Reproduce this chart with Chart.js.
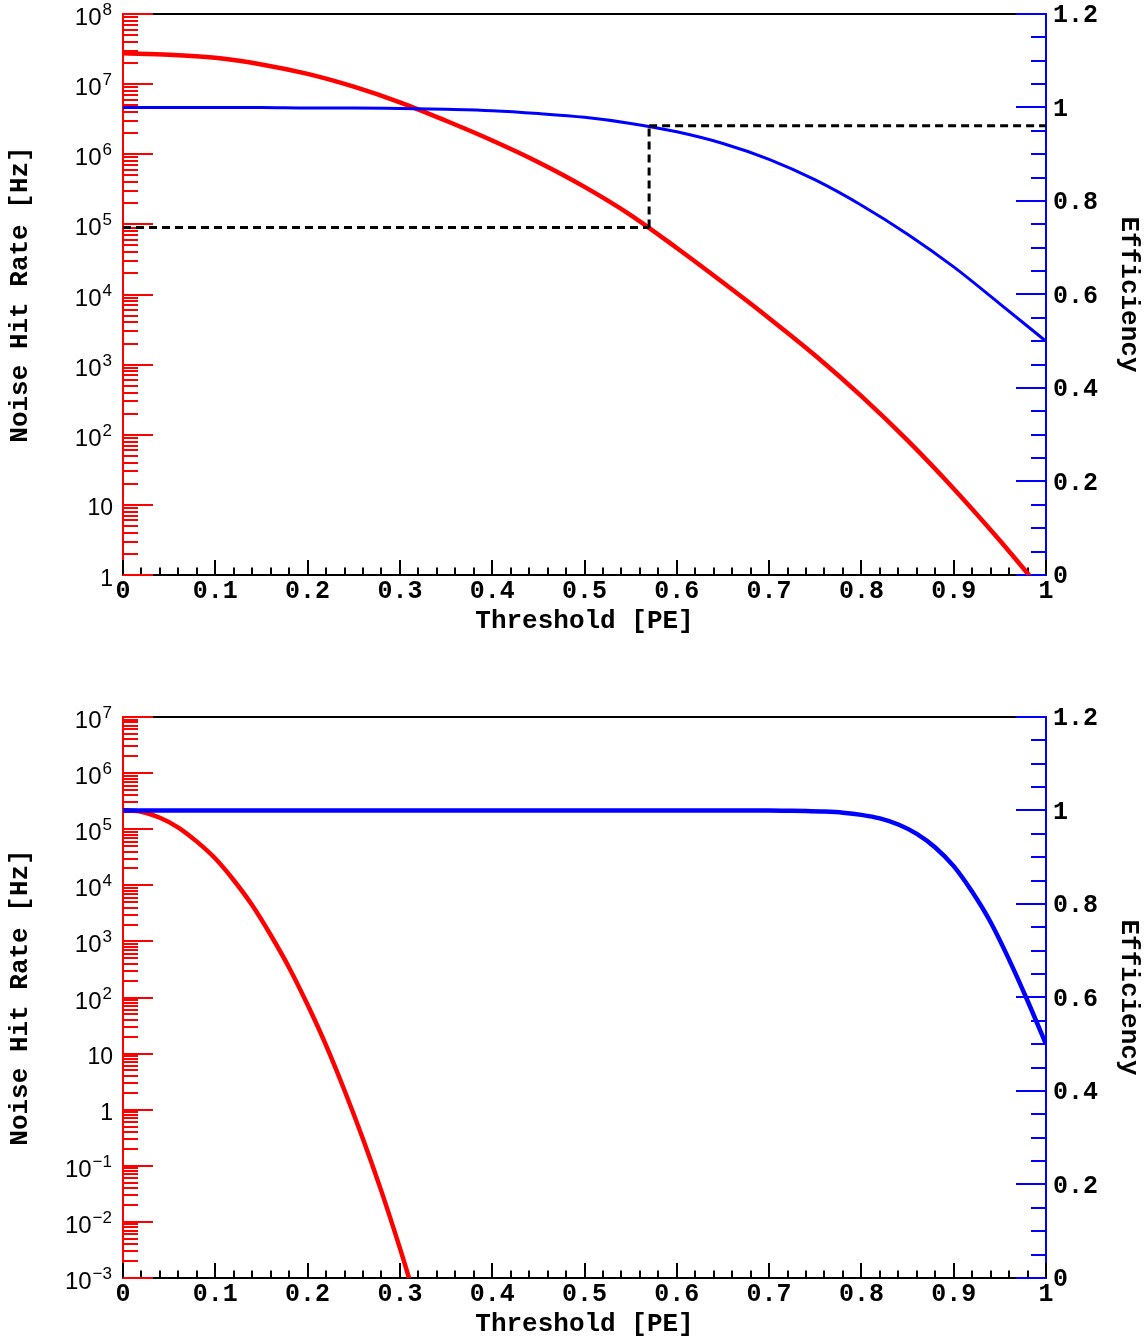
<!DOCTYPE html>
<html>
<head>
<meta charset="utf-8">
<script src="https://cdn.jsdelivr.net/npm/chart.js@4.4.1/dist/chart.umd.min.js"></script>
<style>
  body { margin: 0; background: #fff; }
  .panel { position: absolute; left: 0; width: 1144px; height: 637px; }
  #panelTop { top: 0; }
  #panelBottom { top: 703px; }
</style>
</head>
<body>
<div class="panel" id="panelTop"><canvas id="chartTop" width="1144" height="637"></canvas></div>
<div class="panel" id="panelBottom"><canvas id="chartBottom" width="1144" height="637"></canvas></div>
<script>
// ---- data ----

// top panel
const thrTop = [0, 0.05, 0.1, 0.15, 0.2, 0.25, 0.3, 0.35, 0.4, 0.45, 0.5,
  0.55, 0.6, 0.65, 0.7, 0.75, 0.8, 0.85, 0.9, 0.95, 1.0];
const rateTop = [2.75e7, 2.63e7, 2.37e7, 1.91e7, 1.4e7, 9.2e6, 5.5e6, 3.0e6, 1.57e6, 7.7e5, 3.43e5,
  1.36e5, 4.6e4, 1.48e4, 4.6e3, 1.35e3, 355, 83, 17, 3.1, 0.51];
const effTop = [1.0, 1.0, 1.0, 1.0, 0.999, 0.999, 0.998, 0.996, 0.993, 0.987, 0.979,
  0.966, 0.948, 0.923, 0.889, 0.845, 0.791, 0.729, 0.659, 0.58, 0.5];
const cutThr = 0.57;
const cutRate = 9.0e4;
const cutEff = 0.961;

// bottom panel
const thrRateBottom = [0, 0.02, 0.04, 0.06, 0.08, 0.1, 0.12, 0.14, 0.16, 0.18, 0.2,
  0.22, 0.24, 0.26, 0.28, 0.3, 0.32];
const rateBottom = [2.2e5, 2.05e5, 1.6e5, 1.07e5, 6.0e4, 3.0e4, 1.23e4, 4.4e3, 1.3e3, 340, 74,
  14, 2.2, 0.3, 0.035, 3.4e-3, 2.8e-4];
const thrEffBottom = [0, 0.1, 0.2, 0.3, 0.4, 0.5, 0.6, 0.7, 0.72, 0.74, 0.76, 0.78, 0.8,
  0.82, 0.84, 0.86, 0.88, 0.9, 0.92, 0.94, 0.96, 0.98, 1.0];
const effBottom = [1.0, 1.0, 1.0, 1.0, 1.0, 1.0, 1.0, 1.0, 0.9995, 0.9989, 0.9976, 0.9952, 0.9906,
  0.983, 0.97, 0.95, 0.921, 0.881, 0.826, 0.761, 0.681, 0.593, 0.5];

// axes
const decadesTop = [1, 1e1, 1e2, 1e3, 1e4, 1e5, 1e6, 1e7, 1e8];
const decadesBottom = [1e-3, 1e-2, 1e-1, 1, 1e1, 1e2, 1e3, 1e4, 1e5, 1e6, 1e7];
const effRange = [0, 1.2];

const RED = "#ff0000";
const BLUE = "#0000ff";
const MONO = "'Liberation Mono', 'DejaVu Sans Mono', monospace";
const SANS = "'Liberation Sans', 'DejaVu Sans', sans-serif";

const pts = (xs, ys) => xs.map((x, i) => ({ x, y: ys[i] }));

// ROOT-style frame: inward ticks, top line, log labels with exponents
const rootFrame = {
  id: "rootFrame",
  beforeDatasetsDraw(chart, args, opts) {
    const { ctx, chartArea: a, scales } = chart;
    const { x, y, y1 } = scales;
    const line = (x0, y0, x2, y2) => {
      ctx.beginPath();
      ctx.moveTo(x0, y0);
      ctx.lineTo(x2, y2);
      ctx.stroke();
    };
    ctx.save();
    ctx.lineWidth = 2;

    // top frame line
    ctx.strokeStyle = "#000";
    line(a.left, a.top, a.right, a.top);

    // x ticks: major 0.1, minor 0.02
    for (let i = 0; i <= 50; i++) {
      const px = Math.round(x.getPixelForValue(i / 50));
      line(px, a.bottom, px, a.bottom - (i % 5 === 0 ? 15 : 7.5));
    }

    // log axis ticks (red)
    ctx.strokeStyle = RED;
    const decades = opts.decades;
    decades.forEach((d, i) => {
      const py = Math.round(y.getPixelForValue(d));
      line(a.left, py, a.left + 30, py);
      if (i < decades.length - 1) {
        for (let k = 2; k <= 9; k++) {
          const pm = Math.round(y.getPixelForValue(k * d));
          line(a.left, pm, a.left + 15, pm);
        }
      }
    });

    // efficiency ticks (blue): major 0.2, minor 0.05
    ctx.strokeStyle = BLUE;
    for (let i = 0; i <= 24; i++) {
      const py = Math.round(y1.getPixelForValue(i * 0.05));
      line(a.right, py, a.right - (i % 4 === 0 ? 30 : 15), py);
    }

    // log axis labels
    ctx.fillStyle = "#000";
    ctx.textBaseline = "alphabetic";
    decades.forEach((d) => {
      const py = y.getPixelForValue(d);
      const e = Math.round(Math.log10(d));
      ctx.textAlign = "right";
      if (e === 0 || e === 1) {
        ctx.font = "23px " + SANS;
        ctx.fillText(e === 0 ? "1" : "10", 113, py + 10.5);
      } else {
        const sup = String(e).replace("-", "\u2212");
        ctx.font = "17px " + SANS;
        const w = ctx.measureText(sup).width;
        ctx.fillText(sup, 112, py + 1);
        ctx.font = "24px " + SANS;
        ctx.fillText("10", 112 - w - 1, py + 11);
      }
    });
    ctx.restore();
  },
  afterDatasetsDraw(chart, args, opts) {
    if (!opts.cut) return;
    const { ctx, scales } = chart;
    const px = scales.x.getPixelForValue(opts.cut.thr);
    ctx.save();
    ctx.strokeStyle = "#000";
    ctx.lineWidth = 3;
    ctx.setLineDash([8, 5]);
    ctx.beginPath();
    ctx.moveTo(px, scales.y.getPixelForValue(opts.cut.rate));
    ctx.lineTo(px, scales.y1.getPixelForValue(opts.cut.eff));
    ctx.stroke();
    ctx.restore();
  },
};

function fmtLin(v) {
  const r = Math.round(v * 10) / 10;
  if (r === 0) return "0";
  if (r === 1) return "1";
  return r.toFixed(1);
}

function buildOptions(decades, cut) {
  const monoTick = { family: MONO, size: 25, weight: "bold" };
  const monoTitle = { family: MONO, size: 26, weight: "bold" };
  return {
    responsive: false,
    animation: false,
    layout: { padding: { top: 14, left: 0, right: 0, bottom: 0 } },
    elements: { point: { radius: 0 } },
    plugins: {
      legend: { display: false },
      tooltip: { enabled: false },
      rootFrame: { decades, cut },
    },
    scales: {
      x: {
        type: "linear",
        position: "bottom",
        min: 0,
        max: 1,
        grid: { display: false, drawTicks: false },
        border: { color: "#000", width: 2 },
        ticks: {
          stepSize: 0.1,
          padding: 2,
          autoSkip: false,
          maxRotation: 0,
          color: "#000",
          font: monoTick,
          callback: fmtLin,
        },
        title: { display: true, text: "Threshold [PE]", color: "#000", font: monoTitle, padding: { top: 0, bottom: 0 } },
        afterFit(s) {
          s.height = 62;
          s.paddingLeft = 0;
          s.paddingRight = 0;
        },
      },
      y: {
        type: "logarithmic",
        position: "left",
        min: decades[0],
        max: decades[decades.length - 1],
        grid: { display: false, drawTicks: false },
        border: { color: RED, width: 2 },
        ticks: { display: false },
        afterBuildTicks(s) {
          s.ticks = decades.map((v) => ({ value: v }));
        },
        title: { display: true, text: "Noise Hit Rate [Hz]", color: "#000", font: monoTitle, padding: { top: 5, bottom: 0 } },
        afterFit(s) {
          s.width = 123;
          s.paddingTop = 0;
          s.paddingBottom = 0;
        },
      },
      y1: {
        type: "linear",
        position: "right",
        min: effRange[0],
        max: effRange[1],
        grid: { display: false, drawTicks: false },
        border: { color: BLUE, width: 2 },
        ticks: {
          stepSize: 0.2,
          padding: 7,
          labelOffset: 2,
          color: "#000",
          font: monoTick,
          callback: fmtLin,
        },
        title: { display: true, text: "Efficiency", color: "#000", font: monoTitle, padding: { top: 0, bottom: 0 } },
        afterFit(s) {
          s.width = 98;
          s.paddingTop = 0;
          s.paddingBottom = 0;
        },
      },
    },
  };
}

function initCharts() {
  // top: noise rate and efficiency with the working point
  new Chart(document.getElementById("chartTop").getContext("2d"), {
    type: "line",
    data: {
      datasets: [
        {
          data: pts([0, cutThr], [cutRate, cutRate]),
          yAxisID: "y",
          borderColor: "#000",
          borderWidth: 3,
          borderDash: [8, 5],
        },
        {
          data: pts([cutThr, 1], [cutEff, cutEff]),
          yAxisID: "y1",
          borderColor: "#000",
          borderWidth: 3,
          borderDash: [8, 5],
        },
        {
          data: pts(thrTop, effTop),
          yAxisID: "y1",
          borderColor: BLUE,
          borderWidth: 3,
          cubicInterpolationMode: "monotone",
        },
        {
          data: pts(thrTop, rateTop),
          yAxisID: "y",
          borderColor: RED,
          borderWidth: 4.5,
          cubicInterpolationMode: "monotone",
          clip: 0,
        },
      ],
    },
    options: buildOptions(decadesTop, { thr: cutThr, rate: cutRate, eff: cutEff }),
    plugins: [rootFrame],
  });

  // bottom
  new Chart(document.getElementById("chartBottom").getContext("2d"), {
    type: "line",
    data: {
      datasets: [
        {
          data: pts(thrEffBottom, effBottom),
          yAxisID: "y1",
          borderColor: BLUE,
          borderWidth: 4.5,
          cubicInterpolationMode: "monotone",
        },
        {
          data: pts(thrRateBottom, rateBottom),
          yAxisID: "y",
          borderColor: RED,
          borderWidth: 4.5,
          cubicInterpolationMode: "monotone",
          clip: 0,
        },
      ],
    },
    options: buildOptions(decadesBottom, null),
    plugins: [rootFrame],
  });
}

window.addEventListener("DOMContentLoaded", initCharts);
</script>
</body>
</html>
